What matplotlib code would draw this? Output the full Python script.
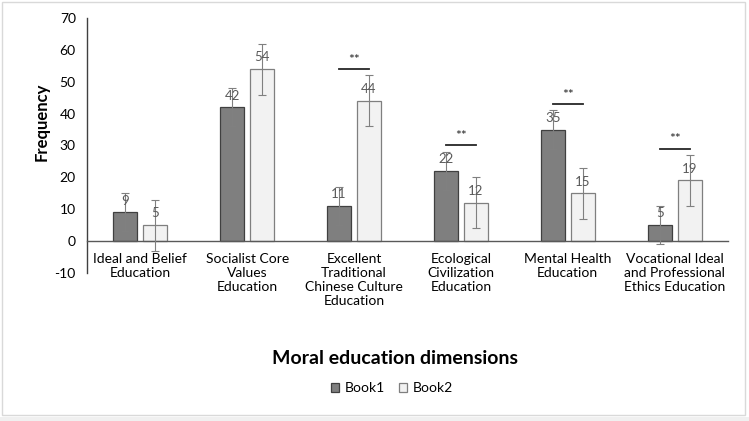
import numpy as np
import matplotlib.pyplot as plt
from matplotlib.patches import Rectangle

# 데이터
categories = [
    "Ideal and Belief\nEducation",
    "Socialist Core\nValues\nEducation",
    "Excellent\nTraditional\nChinese Culture\nEducation",
    "Ecological\nCivilization\nEducation",
    "Mental Health\nEducation",
    "Vocational Ideal\nand Professional\nEthics Education",
]
book1 = [9, 42, 11, 22, 35, 5]
book2 = [5, 54, 44, 12, 15, 19]
book1_err = [6, 6, 6, 6, 6, 6]
book2_err = [8, 8, 8, 8, 8, 8]
significant = [False, False, True, True, True, True]

plt.rcParams['font.family'] = ['Lato', 'DejaVu Sans']
plt.rcParams['axes.unicode_minus'] = False

fig = plt.figure(figsize=(7.49, 4.21), dpi=100)
ax = fig.add_axes([0.116, 0.352, 0.856, 0.605])

# 바깥 테두리
fig.patches.append(Rectangle((2 / 749, 1 - 415 / 421), 743 / 749, 413 / 421,
                             transform=fig.transFigure, fill=False,
                             edgecolor='#d9d9d9', linewidth=1))
fig.patches.append(Rectangle((0, 0), 1, 4 / 421, transform=fig.transFigure,
                             facecolor='#f0f0f0', edgecolor='none'))

x = np.arange(len(categories))
w = 0.224
off = 0.14

ax.bar(x - off, book1, w, color='#7f7f7f', edgecolor='#404040', linewidth=0.9,
       label='Book1', zorder=2)
ax.bar(x + off, book2, w, color='#f2f2f2', edgecolor='#7f7f7f', linewidth=0.9,
       label='Book2', zorder=2)
ax.errorbar(x - off, book1, yerr=book1_err, fmt='none', ecolor='#808080',
            elinewidth=0.8, capsize=3, capthick=0.8, zorder=3)
ax.errorbar(x + off, book2, yerr=book2_err, fmt='none', ecolor='#808080',
            elinewidth=0.8, capsize=3, capthick=0.8, zorder=3)

# 값 라벨
for xi, v in zip(x - off, book1):
    ax.annotate(str(v), (xi, v), xytext=(0, 4), textcoords='offset points',
                ha='center', va='bottom', fontsize=9.5, color='#595959', zorder=4)
for xi, v in zip(x + off, book2):
    ax.annotate(str(v), (xi, v), xytext=(0, 4), textcoords='offset points',
                ha='center', va='bottom', fontsize=9.5, color='#595959', zorder=4)

# 유의성 표시
for i, sig in enumerate(significant):
    if not sig:
        continue
    top = max(book1[i] + book1_err[i], book2[i] + book2_err[i]) + 2
    ax.plot([x[i] - off, x[i] + off], [top, top], color='#262626', lw=1.3)
    ax.text(x[i], top + 1, '**', ha='center', va='bottom', fontsize=10,
            color='#262626')

ax.set_xlim(-0.5, 5.5)
ax.set_ylim(-10, 70)
ax.set_yticks(range(-10, 71, 10))
ax.set_xticks(x)
ax.set_xticklabels(categories, fontsize=11.5)
for lbl in ax.get_xticklabels():
    lbl.set_linespacing(1.65)
ax.tick_params(axis='both', length=0, colors='#000000')
ax.tick_params(axis='y', labelsize=10, pad=8)
ax.tick_params(axis='x', pad=9)

ax.spines['top'].set_visible(False)
ax.spines['right'].set_visible(False)
ax.spines['bottom'].set_position(('data', 0))
ax.spines['bottom'].set_color('#595959')
ax.spines['left'].set_color('#404040')
ax.spines['bottom'].set_linewidth(1)
ax.spines['left'].set_linewidth(1)

fig.text(42 / 749, 1 - 122 / 421, 'Frequency', rotation=90, ha='center',
         va='center', fontsize=12, fontweight='bold')
fig.text(395 / 749, 1 - 359 / 421, 'Moral education dimensions', ha='center',
         va='center', fontsize=14, fontweight='bold')
fig.legend(loc='center', bbox_to_anchor=(392 / 749, 1 - 388 / 421), ncol=2,
           frameon=False, fontsize=10, handlelength=0.6, handleheight=0.6,
           columnspacing=1.0, handletextpad=0.4)

plt.savefig('out.png', dpi=100)
plt.close()
